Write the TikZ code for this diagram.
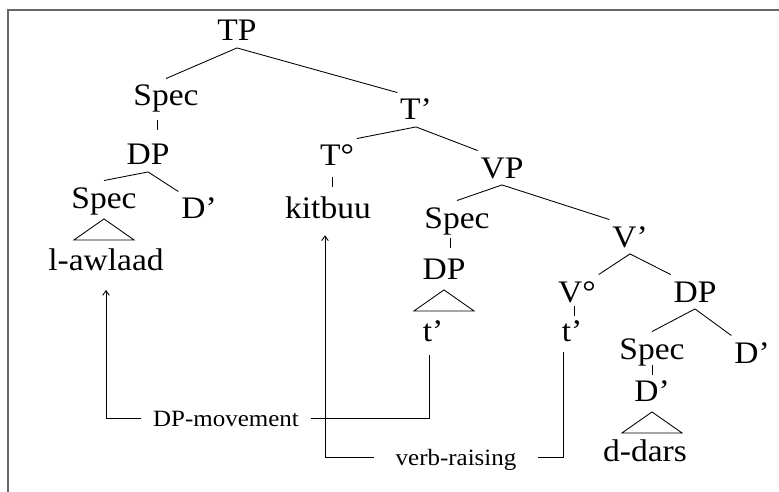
\documentclass[tikz,border=0pt]{standalone}
\usepackage{fontspec}
\setmainfont{Liberation Serif}[FakeStretch=1.07]
\usetikzlibrary{arrows.meta, calc}

\begin{document}
\begin{tikzpicture}[x=0.75pt, y=-0.75pt,
    cat/.style={anchor=base, font=\fontsize{23.5}{28}\selectfont, text height=15.4pt, text depth=0pt, inner xsep=2pt, inner ysep=5pt},
    move/.style={anchor=base, font=\fontsize{17.5}{21}\selectfont, text height=11.5pt, text depth=0pt, inner ysep=2pt},
    branch/.style={line width=0.65pt},
    trace/.style={line width=0.65pt},
    tip/.style={-{Straight Barb[length=3.5pt, width=5pt]}},
    frame/.style={black!60, line width=1.3pt}]
    \useasboundingbox (0,0) rectangle (779,492);

    % Frame (top and left edge only)
    \draw[frame] (8,492) -- (8,10) -- (779,10);

    % Tree nodes, placed on their baselines
    \node[cat] (tp) at (237,41) {TP};
    \node[cat] (spec1) at (166,106) {Spec};
    \node[cat] (dp1) at (148,165) {DP};
    \node[cat] (spec2) at (104,208) {Spec};
    \node[cat] (d1) at (199,219) {D'};
    \node[cat] (lawlaad) at (106,270) {l-awlaad};
    \node[cat] (tbar) at (416,120) {T'};
    \node[cat] (tdeg) at (337,166) {T°};
    \node[cat] (kitbuu) at (328,219) {kitbuu};
    \node[cat] (vp) at (502,178) {VP};
    \node[cat] (spec3) at (457,228) {Spec};
    \node[cat] (vbar) at (630,247) {V'};
    \node[cat] (dp2) at (444,279) {DP};
    \node[cat] (t1) at (433,341) {t'};
    \node[cat] (vdeg) at (577,302) {V°};
    \node[cat] (t2) at (572,341) {t'};
    \node[cat] (dp3) at (695,302) {DP};
    \node[cat] (spec4) at (652,359) {Spec};
    \node[cat] (d2) at (752,363) {D'};
    \node[cat] (d3) at (652,401) {D'};
    \node[cat] (ddars) at (645,461) {d-dars};

    % Branches
    \draw[branch] (tp.south) -- (spec1.north);
    \draw[branch] (tp.south) -- (tbar.north west);
    \draw[branch] (dp1.south) -- (spec2.north);
    \draw[branch] (dp1.south) -- (d1.north west);
    \draw[branch] (tbar.south) -- (tdeg.north east);
    \draw[branch] (tbar.south) -- (vp.north west);
    \draw[branch] (vp.south) -- (spec3.north);
    \draw[branch] (vp.south) -- (vbar.north west);
    \draw[branch] (vbar.south) -- (vdeg.north east);
    \draw[branch] (vbar.south) -- (dp3.north west);
    \draw[branch] (dp3.south) -- (spec4.north);
    \draw[branch] (dp3.south) -- (d2.north west);

    % Unary branches (short bars)
    \draw[branch] ($(spec1.south)!0.5!(dp1.north)$) ++(0,-5) -- ++(0,10);
    \draw[branch] ($(tdeg.south)!0.5!(kitbuu.north)$) ++(0,-5) -- ++(0,10);
    \draw[branch] ($(spec3.south)!0.5!(dp2.north)$) ++(0,-5) -- ++(0,10);
    \draw[branch] ($(vdeg.south)!0.5!(t2.north)$) ++(0,-5) -- ++(0,10);
    \draw[branch] ($(spec4.south)!0.5!(d3.north)$) ++(0,-5) -- ++(0,10);

    % Triangles
    \draw[branch] (spec2.south) ++(0,4) -- ++(30,21) -- ++(-60,0) -- cycle;
    \draw[branch] (dp2.south) ++(0,4) -- ++(30,21) -- ++(-60,0) -- cycle;
    \draw[branch] (d3.south) ++(0,4) -- ++(30,21) -- ++(-60,0) -- cycle;

    % Movement labels
    \node[move, inner xsep=9pt] (dpmove) at (226,426) {DP-movement};
    \node[move, inner xsep=16pt] (vraise) at (456,465) {verb-raising};

    % Movement paths
    \draw[trace] (t1.south) ++(-4,7) |- (dpmove.east);
    \draw[trace, tip, shorten >=9.75pt] (dpmove.west) -| (lawlaad.south);
    \draw[trace] (t2.south) ++(-9,4) |- (vraise.east);
    \draw[trace, tip, shorten >=7pt] (vraise.west) -| ([xshift=-2.25pt]kitbuu.south);
\end{tikzpicture}
\end{document}
